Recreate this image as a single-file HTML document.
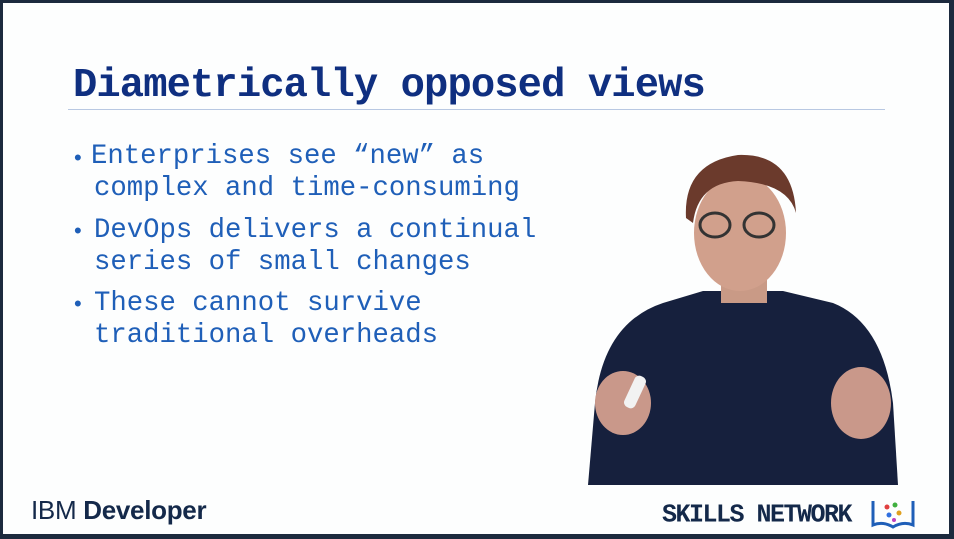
<!DOCTYPE html>
<html><head><meta charset="utf-8"><style>
html,body{margin:0;padding:0}
body{width:954px;height:539px;position:relative;overflow:hidden;background:#1c2a3e;font-family:"Liberation Sans",sans-serif}
#slide{position:absolute;left:3px;top:3px;width:946px;height:531px;background:#fdfefe}
.title{position:absolute;left:70px;top:60px;font-family:"Liberation Mono",monospace;font-weight:bold;font-size:40.5px;color:#0f2f80;white-space:nowrap;letter-spacing:-0.9px}
.rule{position:absolute;left:65px;top:106px;width:817px;height:1px;background:#b8c8e2}
.b{position:absolute;font-family:"Liberation Mono",monospace;font-size:27.3px;color:#1f5fb8;white-space:nowrap}
.dot{position:absolute;left:71px;font-size:22px;color:#1f5fb8}
.ibm{position:absolute;left:28px;top:492px;font-size:26px;color:#14294a;letter-spacing:-0.3px}
.sn{position:absolute;left:659px;top:497px;font-family:"Liberation Mono",monospace;font-weight:bold;font-size:25px;color:#14294a;letter-spacing:-1.5px;transform:scaleY(1.05)}
</style></head><body>
<div id="slide">
<div class="title">Diametrically opposed views</div>
<div class="rule"></div>
<div class="dot" style="top:142px">•</div>
<div class="b" style="left:88px;top:138px">Enterprises see “new” as</div>
<div class="b" style="left:91px;top:170px">complex and time-consuming</div>
<div class="dot" style="top:215px">•</div>
<div class="b" style="left:91px;top:212px">DevOps delivers a continual</div>
<div class="b" style="left:91px;top:244px">series of small changes</div>
<div class="dot" style="top:288px">•</div>
<div class="b" style="left:91px;top:285px">These cannot survive</div>
<div class="b" style="left:91px;top:317px">traditional overheads</div>
<svg width="946" height="531" style="position:absolute;left:0;top:0">
<path d="M585,482 L592,400 Q600,320 660,300 L700,288 L780,288 L830,300 Q880,320 890,400 L895,482 Z" fill="#16203d"/>
<rect x="718" y="260" width="46" height="40" fill="#c99a86"/>
<ellipse cx="737" cy="230" rx="46" ry="58" fill="#d1a08c"/>
<path d="M683,215 Q680,160 735,152 Q790,150 793,210 Q785,180 735,178 Q695,180 690,220 Z" fill="#6b3a2c"/>
<ellipse cx="712" cy="222" rx="15" ry="12" fill="none" stroke="#333" stroke-width="3"/>
<ellipse cx="756" cy="222" rx="15" ry="12" fill="none" stroke="#333" stroke-width="3"/>
<ellipse cx="620" cy="400" rx="28" ry="32" fill="#c9988a"/>
<rect x="626" y="372" width="12" height="34" rx="5" fill="#f2f2f2" transform="rotate(25 632 389)"/>
<ellipse cx="858" cy="400" rx="30" ry="36" fill="#c9988a"/>
</svg>
<div class="ibm">IBM <b>Developer</b></div>
<div class="sn">SKILLS NETWORK</div>
<svg width="50" height="36" style="position:absolute;left:866px;top:492px">
<path d="M4,6 V30 Q14,26 24,32 Q34,26 44,30 V6" fill="none" stroke="#1f5fb8" stroke-width="3"/>
<circle cx="18" cy="12" r="2.5" fill="#e04040"/><circle cx="26" cy="10" r="2.5" fill="#40b040"/>
<circle cx="30" cy="18" r="2.5" fill="#e0a020"/><circle cx="20" cy="20" r="2.5" fill="#3070e0"/>
<circle cx="25" cy="25" r="2" fill="#c040c0"/>
</svg>
</div>
</body></html>
